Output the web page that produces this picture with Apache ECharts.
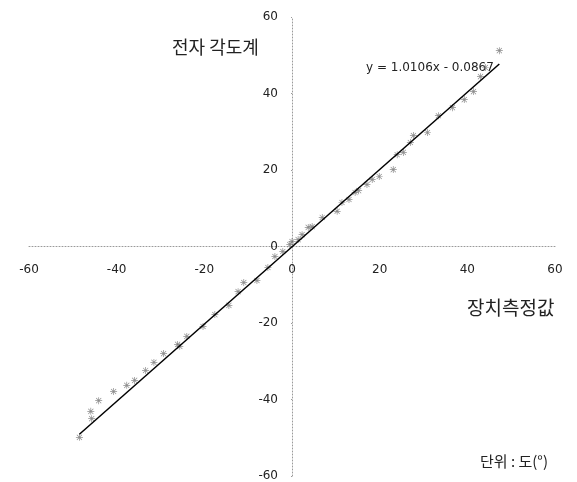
<!DOCTYPE html>
<html>
<head>
<meta charset="utf-8">
<script src="https://cdn.jsdelivr.net/npm/echarts@6/dist/echarts.min.js"></script>
<style>
  html, body { margin: 0; padding: 0; background: #fff; }
  #chart { width: 577px; height: 482px; }
</style>
</head>
<body>
<div id="chart"></div>
<script>
// 장치측정값 (x) vs 전자 각도계 (y), 단위: 도
var xVals = [-48.5, -45.9, -45.7, -44.1, -40.7, -37.7, -35.9, -33.4, -31.5, -29.3,
  -26.1, -25.6, -24.0, -20.3, -17.6, -14.4, -12.3, -11.0, -8.0, -5.5,
  -3.9, -2.1, -0.5, 0.0, 1.4, 2.3, 3.7, 4.6, 6.9, 10.3,
  11.4, 13.0, 14.4, 15.2, 17.1, 18.3, 19.9, 23.1, 24.0, 25.4,
  27.0, 27.7, 30.9, 33.4, 36.6, 39.3, 41.4, 43.0, 44.1, 47.3];
var yVals = [-49.9, -43.1, -45.0, -40.3, -37.9, -36.3, -35.0, -32.4, -30.3, -28.0,
  -25.6, -26.1, -23.5, -20.9, -17.8, -15.4, -11.8, -9.4, -8.9, -5.5,
  -2.6, -1.3, 0.5, 1.3, 1.8, 3.1, 5.0, 5.2, 7.6, 9.2,
  11.5, 12.3, 14.1, 14.6, 16.2, 17.5, 18.3, 20.1, 24.0, 24.6,
  27.2, 29.0, 29.8, 34.2, 36.3, 38.4, 40.5, 44.4, 46.8, 51.2];
var axisTicks = [-60, -40, -20, 0, 20, 40, 60];
var slope = 1.0106;
var intercept = -0.0867;

var points = xVals.map(function (x, i) { return [x, yVals[i]]; });
var xMin = Math.min.apply(null, xVals);
var xMax = Math.max.apply(null, xVals);
var trend = [[xMin, slope * xMin + intercept], [xMax, slope * xMax + intercept]];

// grid box; axes cross in the middle since the range is symmetric
var W = 577, H = 482;
var gl = 29, gr = 22, gt = 17, gb = 6;
var midX = (W - gl - gr) / 2;
var midY = (H - gt - gb) / 2;

var asterisk = 'path://M4.5,0h1v10h-1z M0,4.5h10v1h-10z M1,1.7L1.7,1L9,8.3L8.3,9Z M8.3,1L9,1.7L1.7,9L1,8.3Z';
var labelFont = { fontFamily: 'DejaVu Sans', fontSize: 12, color: '#222' };
var dotted = { color: '#9a9a9a', width: 1, type: [1, 2] };

var myChart = echarts.init(document.getElementById('chart'));
var option = {
  animation: false,
  backgroundColor: '#fff',
  grid: { left: gl, right: gr, top: gt, bottom: gb, containLabel: false, outerBoundsMode: 'none' },
  xAxis: {
    type: 'value',
    position: 'bottom',
    offset: -midY,
    min: axisTicks[0],
    max: axisTicks[axisTicks.length - 1],
    interval: 20,
    axisLine: { onZero: false, lineStyle: dotted },
    axisTick: { show: false },
    axisLabel: Object.assign({ margin: 17 }, labelFont),
    splitLine: { show: false }
  },
  yAxis: {
    type: 'value',
    position: 'left',
    offset: -midX,
    min: axisTicks[0],
    max: axisTicks[axisTicks.length - 1],
    interval: 20,
    axisLine: { onZero: false, lineStyle: dotted },
    axisTick: { show: true, length: 3, lineStyle: dotted },
    axisLabel: Object.assign({ margin: 14 }, labelFont),
    splitLine: { show: false }
  },
  series: [
    {
      type: 'scatter',
      data: points,
      symbol: asterisk,
      symbolSize: 7,
      itemStyle: { color: '#6f6f6f' },
      z: 2
    },
    {
      type: 'line',
      data: trend,
      showSymbol: false,
      lineStyle: { color: '#000', width: 1.5 },
      z: 3
    }
  ],
  graphic: [
    {
      type: 'text', left: 172, top: 38,
      style: { text: '전자 각도계', font: '18px "Noto Sans CJK KR"', fill: '#222' }
    },
    {
      type: 'text', left: 366, top: 62,
      style: { text: 'y = 1.0106x - 0.0867', font: '12px "DejaVu Sans"', fill: '#222' }
    },
    {
      type: 'text', left: 467, top: 298,
      style: { text: '장치측정값', font: '19px "Noto Sans CJK KR"', fill: '#222' }
    },
    {
      type: 'text', left: 480, top: 454,
      style: { text: '단위 : 도(°)', font: '15px "Noto Sans CJK KR"', fill: '#222' }
    }
  ]
};
myChart.setOption(option, true);
</script>
</body>
</html>
